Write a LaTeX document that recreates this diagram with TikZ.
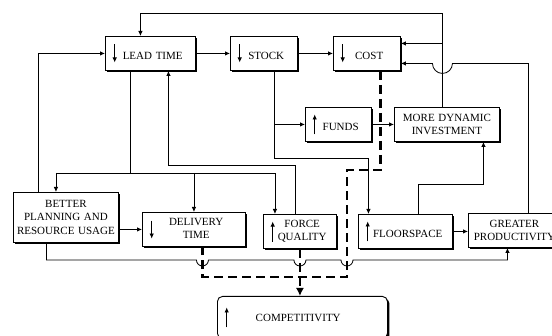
\documentclass[tikz,border=0pt]{standalone}
\usepackage{fontspec}
\setmainfont{Liberation Serif}
\usetikzlibrary{arrows.meta,shadows,calc}

% small up/down arrows set in front of a label
\newcommand{\dnarr}[1][6.5pt]{\tikz[baseline=-#1]\draw[-{Latex[length=5pt,width=4.5pt]},line width=0.8pt] (0pt,9pt) -- (0pt,-9pt);}
\newcommand{\uparr}[1][6.5pt]{\tikz[baseline=-#1]\draw[-{Latex[length=5pt,width=4.5pt]},line width=0.8pt] (0pt,-10pt) -- (0pt,10pt);}

\begin{document}
\begin{tikzpicture}[x=1pt,y=-1pt,
  font=\fontsize{11}{13.5}\selectfont,
  box/.style={draw,line width=0.9pt,fill=white,anchor=north west,inner ysep=2pt,minimum height=34pt,
    drop shadow={shadow xshift=2pt,shadow yshift=-2pt,opacity=1,fill=black}},
  abox/.style={box,inner xsep=7pt,text width=#1,align=left},
  cbox/.style={box,inner xsep=3pt,text width=#1,align=center},
  arr/.style={-{Latex[length=5pt,width=4.5pt]},line width=0.8pt},
  dsh/.style={line width=2.6pt,dash pattern=on 9pt off 5pt},
  hop/.style={to path={-- ($(\tikztotarget)+(-6,0)$) arc[start angle=180,end angle=360,radius=6pt]}}]
  \useasboundingbox (0,0) rectangle (552,336);

  \node[abox=76pt] (lt) at (105,36) {\dnarr\hfill LEAD TIME\hfill\mbox{}};
  \node[abox=53pt] (st) at (230,36) {\dnarr\hfill STOCK\hfill\mbox{}};
  \node[abox=53pt] (co) at (333,36) {\dnarr\hfill COST\hfill\mbox{}};
  \node[abox=52pt] (fu) at (305,107) {\uparr\hfill FUNDS\hfill\mbox{}};
  \node[cbox=99pt] (mdi) at (394,107) {MORE DYNAMIC\\INVESTMENT};
  \node[cbox=99pt,minimum height=50pt] (bp) at (13,192) {BETTER\\PLANNING AND\\RESOURCE USAGE};
  \node[abox=89pt] (dt) at (142,212) {\dnarr[2.6pt]\hfill\begin{tabular}{@{}c@{}}DELIVERY\\TIME\end{tabular}\hfill\mbox{}};
  \node[abox=59pt] (fq) at (263,214) {\uparr[2.6pt]\hfill\begin{tabular}{@{}c@{}}FORCE\\QUALITY\end{tabular}\hfill\mbox{}};
  \node[abox=80pt] (fs) at (358,214) {\uparr\hfill FLOORSPACE\hfill\mbox{}};
  \node[cbox=86pt] (gp) at (468,213) {GREATER\\PRODUCTIVITY};
  \node[abox=156pt,rounded corners=5pt,minimum height=42pt] (comp) at (217,296) {\uparr[4pt]\hfill COMPETITIVITY\hfill\hspace{13pt}\mbox{}};

  % rails
  \coordinate (top) at (0,13);
  \coordinate (back) at (0,165);
  \coordinate (rail) at (0,173);
  \coordinate (srail) at (0,158);
  \coordinate (low) at (0,260);
  \coordinate (dlow) at (0,277);
  \coordinate (dbend) at (347,170);
  % ports
  \coordinate (inv) at ([xshift=-4.5pt]mdi.north);
  \coordinate (mdiin) at ([xshift=36.5pt]mdi.south);
  \coordinate (gpout) at ([xshift=14pt]gp.north);
  \coordinate (gpin) at ([xshift=-7pt]gp.south);
  \coordinate (co1) at ([yshift=10pt]co.east);
  \coordinate (co2) at ([yshift=-10pt]co.east);
  \coordinate (coout) at ([xshift=13.5pt]co.south);
  \coordinate (ltout) at ([xshift=-20pt]lt.south);
  \coordinate (ltin) at ([xshift=18pt]lt.south);
  \coordinate (bpin) at ([xshift=-10pt]bp.north);
  \coordinate (bpout) at ([xshift=-19.5pt]bp.south);
  \coordinate (fqin) at ([xshift=-25pt]fq.north);
  \coordinate (fqout) at ([xshift=-4.5pt]fq.north);
  \coordinate (stout) at ([xshift=10pt]st.south);
  \coordinate (fsin) at ([xshift=-37pt]fs.north);
  \coordinate (fsout) at ([xshift=13pt]fs.north);
  \coordinate (dtdash) at ([xshift=8.5pt]dt.south);

  \draw[arr] (lt.east) -- (st.west);
  \draw[arr] (st.east) -- (co.west);
  \draw[arr] (inv) -- (inv |- top) -| ([xshift=-10pt]lt.north);
  \draw[arr] (inv |- co1) -- (co1);
  \draw[arr] (gpout) |- ($(inv |- co2)+(10,0)$) arc[start angle=0,end angle=-180,radius=10pt] -- (co2);
  \draw[arr] ([xshift=-28pt]bp.north) |- (lt.west);
  \draw (ltout) -- (ltout |- rail);
  \draw[arr] (bpin |- rail) -- (bpin);
  \draw[arr] (bpin |- rail) -| (fqin);
  \draw[arr] (dt.north |- rail) -- (dt.north);
  \draw[arr] (fqout) -- (fqout |- back) -| (ltin);
  \draw[arr] (stout) |- (fu.west);
  \draw[arr] (stout) -- (stout |- srail) -| (fsin);
  \draw[arr] (fu.east) -- (mdi.west);
  \draw[arr] (fsout) -- ++(0,-30) -| (mdiin);
  \draw[arr] (fs.east) -- (fs.east -| gp.west);
  \draw[arr] (bp.east |- dt.west) -- (dt.west);
  \draw[arr] (bpout) -- (bpout |- low) to[hop] (dtdash |- low) to[hop] (fq.south |- low)
    to[hop] (dbend |- low) -| (gpin);

  % dashed links to competitivity
  \draw[dsh] (coout) |- (dbend) -- (dbend |- dlow) -| (dtdash);
  \draw[dsh,-{Latex[length=8pt,width=8pt]}] (fq.south) -- (fq.south |- comp.north);
\end{tikzpicture}
\end{document}
